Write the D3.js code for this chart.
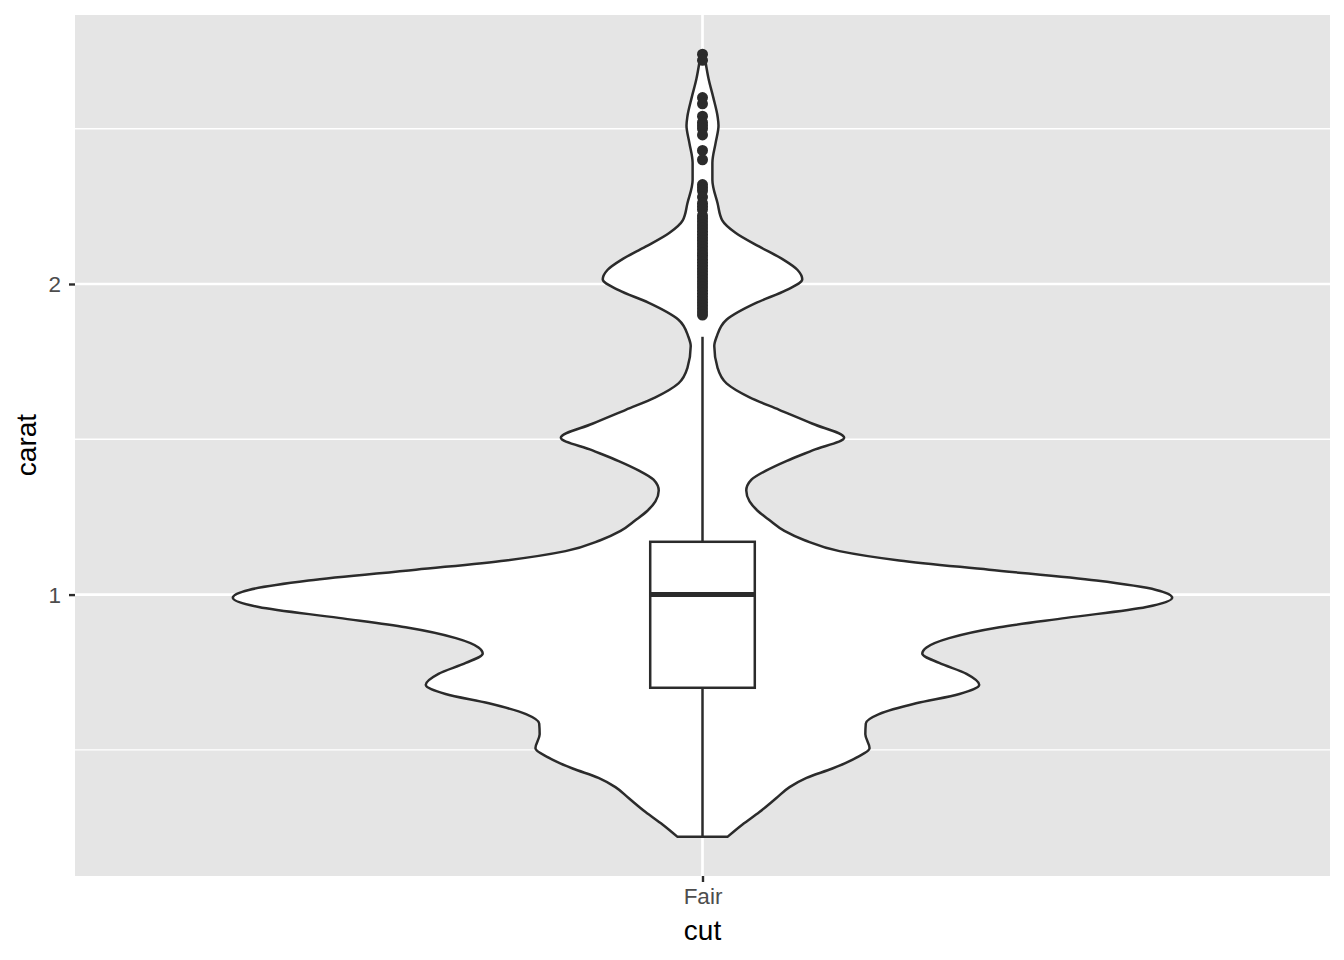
<!DOCTYPE html>
<html><head><meta charset="utf-8">
<script src="https://cdn.jsdelivr.net/npm/d3@7"></script>
<style>body{margin:0;background:#fff} svg{display:block}</style>
</head><body><svg id="c" width="1344" height="960"></svg>
<script>
// ---- data ----
const categories = ["Fair"];
const yTicks = [1, 2];
const yMinorTicks = [0.5, 1.5, 2.5];
// violin density profile (carat, relative density; max = 1)
const densityCarat = [0.22,0.26,0.30,0.345,0.38,0.41,0.44,0.475,0.505,0.55,0.585,0.615,0.65,0.68,0.71,0.745,0.78,0.81,0.83,0.86,0.895,0.925,0.96,0.99,1.015,1.045,1.08,1.11,1.14,1.175,1.205,1.24,1.27,1.30,1.335,1.37,1.40,1.43,1.465,1.505,1.55,1.595,1.635,1.68,1.73,1.80,1.83,1.885,1.94,1.98,2.015,2.045,2.08,2.12,2.165,2.205,2.26,2.335,2.39,2.455,2.51,2.54,2.60,2.66,2.71,2.74];
const densityWidth = [0.053,0.085,0.121,0.157,0.185,0.221,0.276,0.327,0.355,0.346,0.347,0.375,0.454,0.546,0.588,0.561,0.503,0.467,0.476,0.524,0.631,0.773,0.943,0.998,0.964,0.837,0.609,0.418,0.291,0.217,0.174,0.142,0.117,0.100,0.093,0.104,0.136,0.178,0.235,0.301,0.234,0.163,0.100,0.051,0.032,0.025,0.030,0.051,0.115,0.178,0.212,0.202,0.170,0.121,0.070,0.042,0.032,0.021,0.021,0.028,0.034,0.032,0.023,0.013,0.007,0.004];
// boxplot
const boxQuartiles = [0.70, 1.00, 1.17];   // Q1, median, Q3
const whiskerEnds = [0.22, 1.83];         // lower, upper
const outliers = [2.74,2.72,2.60,2.58,2.54,2.52,2.51,2.50,2.48,2.43,2.40,2.32,2.31,2.30,2.28,2.26,2.25,2.24,2.22,2.21,2.20,2.19,2.18,2.17,2.16,2.15,2.14,2.13,2.12,2.11,2.10,2.09,2.08,2.07,2.06,2.05,2.04,2.03,2.02,2.01,2.00,1.99,1.98,1.97,1.96,1.95,1.94,1.93,1.92,1.91,1.90];

// ---- layout ----
const svg = d3.select("#c");
const panel = {left: 75, right: 1330, top: 15, bottom: 876};
const font = "'Liberation Sans', Arial, Helvetica, sans-serif";

const dataMin = d3.min([...densityCarat, ...outliers]);
const dataMax = d3.max([...densityCarat, ...outliers]);
const pad = (dataMax - dataMin) * 0.05;
const y = d3.scaleLinear().domain([dataMin - pad, dataMax + pad]).range([panel.bottom, panel.top]);
const x = d3.scalePoint().domain(categories).range([panel.left, panel.right]).padding(0.6);
const step = x.step();
const w = d3.scaleLinear().domain([0, 1]).range([0, step]);

// panel background
svg.append("rect").attr("x", panel.left).attr("y", panel.top)
  .attr("width", panel.right - panel.left).attr("height", panel.bottom - panel.top)
  .attr("fill", "#E5E5E5");

// grid
svg.selectAll(".gmin").data(yMinorTicks).enter().append("line")
  .attr("x1", panel.left).attr("x2", panel.right)
  .attr("y1", d => y(d)).attr("y2", d => y(d))
  .attr("stroke", "#fff").attr("stroke-width", 1.4);
svg.selectAll(".gmaj").data(yTicks).enter().append("line")
  .attr("x1", panel.left).attr("x2", panel.right)
  .attr("y1", d => y(d)).attr("y2", d => y(d))
  .attr("stroke", "#fff").attr("stroke-width", 2.7);
svg.selectAll(".gx").data(categories).enter().append("line")
  .attr("x1", d => x(d)).attr("x2", d => x(d))
  .attr("y1", panel.top).attr("y2", panel.bottom)
  .attr("stroke", "#fff").attr("stroke-width", 2.7);

const ink = "#2B2B2B";

// violin
categories.forEach(cat => {
  const cx = x(cat);
  const pts = densityCarat.map((c, i) => [c, densityWidth[i]]);
  const line = d3.line().curve(d3.curveMonotoneY);
  const right = line(pts.map(p => [cx + w(p[1] * 0.45), y(p[0])]));
  const left = line(pts.slice().reverse().map(p => [cx - w(p[1] * 0.45), y(p[0])]));
  svg.append("path")
    .attr("d", right + "L" + left.slice(1) + "Z")
    .attr("fill", "#fff").attr("stroke", ink).attr("stroke-width", 2.5)
    .attr("stroke-linejoin", "round");

  // boxplot
  const bw = w(0.05);
  svg.append("line").attr("x1", cx).attr("x2", cx)
    .attr("y1", y(boxQuartiles[2])).attr("y2", y(whiskerEnds[1]))
    .attr("stroke", ink).attr("stroke-width", 2.5);
  svg.append("line").attr("x1", cx).attr("x2", cx)
    .attr("y1", y(boxQuartiles[0])).attr("y2", y(whiskerEnds[0]))
    .attr("stroke", ink).attr("stroke-width", 2.5);
  svg.append("rect").attr("x", cx - bw).attr("width", 2 * bw)
    .attr("y", y(boxQuartiles[2])).attr("height", y(boxQuartiles[0]) - y(boxQuartiles[2]))
    .attr("fill", "#fff").attr("stroke", ink).attr("stroke-width", 2.5);
  svg.append("line").attr("x1", cx - bw).attr("x2", cx + bw)
    .attr("y1", y(boxQuartiles[1])).attr("y2", y(boxQuartiles[1]))
    .attr("stroke", ink).attr("stroke-width", 5);
  svg.selectAll(".out").data(outliers).enter().append("circle")
    .attr("cx", cx).attr("cy", d => y(d)).attr("r", 5.5).attr("fill", ink);
});

// axes
const yAxis = svg.append("g").attr("transform", `translate(${panel.left},0)`)
  .call(d3.axisLeft(y).tickValues(yTicks).tickSize(6).tickPadding(8).tickFormat(d3.format("d")));
const xAxis = svg.append("g").attr("transform", `translate(0,${panel.bottom})`)
  .call(d3.axisBottom(x).tickSize(6).tickPadding(6));
[yAxis, xAxis].forEach(g => {
  g.select(".domain").remove();
  g.selectAll(".tick line").attr("stroke", ink).attr("stroke-width", 2.4);
  g.selectAll(".tick text").attr("fill", "#4D4D4D").style("font-family", font).style("font-size", "22.5px");
});
yAxis.selectAll(".tick text").attr("dy", "0.34em");

// titles
svg.append("text").attr("x", x(categories[0])).attr("y", 940)
  .attr("text-anchor", "middle").style("font-family", font).style("font-size", "28px")
  .attr("fill", "#000").text("cut");
svg.append("text").attr("transform", `translate(36,445) rotate(-90)`)
  .attr("text-anchor", "middle").style("font-family", font).style("font-size", "28px")
  .attr("fill", "#000").text("carat");
</script></body></html>
